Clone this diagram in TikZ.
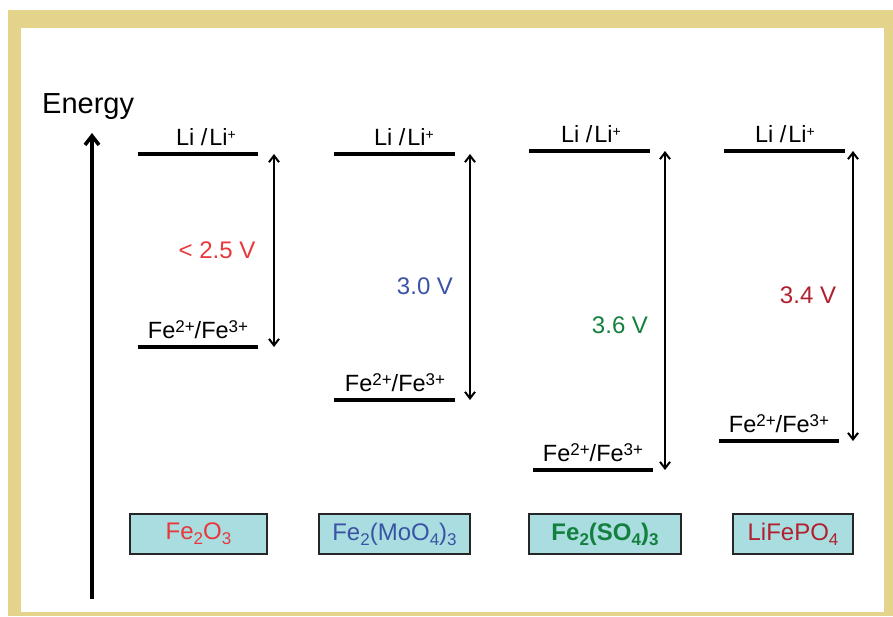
\documentclass[tikz,border=0pt]{standalone}
\usepackage{fontspec}
\setmainfont{Liberation Sans}
\usetikzlibrary{arrows.meta}
\definecolor{framecol}{HTML}{E3D38B}
\definecolor{boxfill}{HTML}{A9DDE0}
\definecolor{cred}{HTML}{E8383D}
\definecolor{cblue}{HTML}{3A53A4}
\definecolor{cgreen}{HTML}{14803F}
\definecolor{cdred}{HTML}{B0202E}
% superscripts for the redox labels
\newcommand{\chsup}[1]{\raisebox{5.2pt}{\fontsize{17}{17}\selectfont #1}}
\newcommand{\chsub}[1]{\raisebox{-5pt}{\fontsize{17}{17}\selectfont #1}}
\newcommand{\redox}{Fe\chsup{2+}/Fe\chsup{3+}}
\newcommand{\lithium}{Li /\kern2pt Li\raisebox{6pt}{\fontsize{14}{14}\selectfont +}}
\tikzset{
  level/.style={line width=3.2pt},
  volt/.style={line width=2pt,{Straight Barb[length=6.5pt,width=10pt,line width=2pt]}-{Straight Barb[length=6.5pt,width=10pt,line width=2pt]}},
  axis/.style={line width=3.8pt,-{Straight Barb[length=9pt,width=14pt,line width=3.6pt]}},
  lbl/.style={inner sep=0pt,font=\fontsize{23.5}{27}\selectfont,anchor=base},
  vlbl/.style={inner sep=0pt,font=\fontsize{24}{28}\selectfont},
  matbox/.style={draw=black!85,line width=1.2pt,fill=boxfill,inner sep=0pt,
    minimum height=40pt,font=\fontsize{24}{28}\selectfont},
}
\begin{document}
\begin{tikzpicture}[x=1pt,y=-1pt]
\useasboundingbox (0,0) rectangle (893,616);
% frame
\fill[white] (0,0) rectangle (893,616);
\fill[framecol] (8,10) rectangle (893,616);
\fill[white] (21,28) rectangle (884,612);

% energy axis
\coordinate (axbot) at (92,599);
\coordinate (axtop) at (92,133);
\draw[axis] (axbot) -- (axtop);
\node[inner sep=0pt,anchor=base west,font=\fontsize{29}{33}\selectfont] (energy) at (42,113) {Energy};

% column 1: Fe2O3
\coordinate (l1a) at (138,154); \coordinate (l1b) at (258,154);
\coordinate (f1a) at (138,347); \coordinate (f1b) at (258,347);
\draw[level] (l1a) -- (l1b);
\draw[level] (f1a) -- (f1b);
\node[lbl] (li1) at (206,145) {\lithium};
\node[lbl] (fe1) at (198,338) {\redox};
\coordinate (t1) at (274,154); \coordinate (b1) at (274,347);
\draw[volt] (t1) -- (b1);
\node[vlbl,text=cred] (v1) at (217,250) {< 2.5 V};
\node[matbox,minimum width=137pt,text=cred] (m1) at (198.5,534) {Fe\chsub{2}O\chsub{3}};

% column 2: Fe2(MoO4)3
\coordinate (l2a) at (334,154); \coordinate (l2b) at (455,154);
\coordinate (f2a) at (334,400); \coordinate (f2b) at (455,400);
\draw[level] (l2a) -- (l2b);
\draw[level] (f2a) -- (f2b);
\node[lbl] (li2) at (404,145) {\lithium};
\node[lbl] (fe2) at (395,391) {\redox};
\coordinate (t2) at (470,154); \coordinate (b2) at (470,400);
\draw[volt] (t2) -- (b2);
\node[vlbl,text=cblue] (v2) at (425,286) {3.0 V};
\node[matbox,minimum width=151pt,text=cblue] (m2) at (394.5,534) {Fe\chsub{2}(MoO\chsub{4})\chsub{3}};

% column 3: Fe2(SO4)3
\coordinate (l3a) at (529,151); \coordinate (l3b) at (650,151);
\coordinate (f3a) at (533,470); \coordinate (f3b) at (653,470);
\draw[level] (l3a) -- (l3b);
\draw[level] (f3a) -- (f3b);
\node[lbl] (li3) at (591,142) {\lithium};
\node[lbl] (fe3) at (593,461) {\redox};
\coordinate (t3) at (665,151); \coordinate (b3) at (665,470);
\draw[volt] (t3) -- (b3);
\node[vlbl,text=cgreen] (v3) at (620,325) {3.6 V};
\node[matbox,minimum width=152pt,text=cgreen,font=\fontsize{24}{28}\selectfont\bfseries] (m3) at (605,534) {Fe\chsub{2}(SO\chsub{4})\chsub{3}};

% column 4: LiFePO4
\coordinate (l4a) at (724,151); \coordinate (l4b) at (845,151);
\coordinate (f4a) at (719,441); \coordinate (f4b) at (839,441);
\draw[level] (l4a) -- (l4b);
\draw[level] (f4a) -- (f4b);
\node[lbl] (li4) at (785,142) {\lithium};
\node[lbl] (fe4) at (779,432) {\redox};
\coordinate (t4) at (853,151); \coordinate (b4) at (853,441);
\draw[volt] (t4) -- (b4);
\node[vlbl,text=cdred] (v4) at (808,295) {3.4 V};
\node[matbox,minimum width=120pt,text=cdred] (m4) at (793,534) {LiFePO\chsub{4}};
\end{tikzpicture}
\end{document}
